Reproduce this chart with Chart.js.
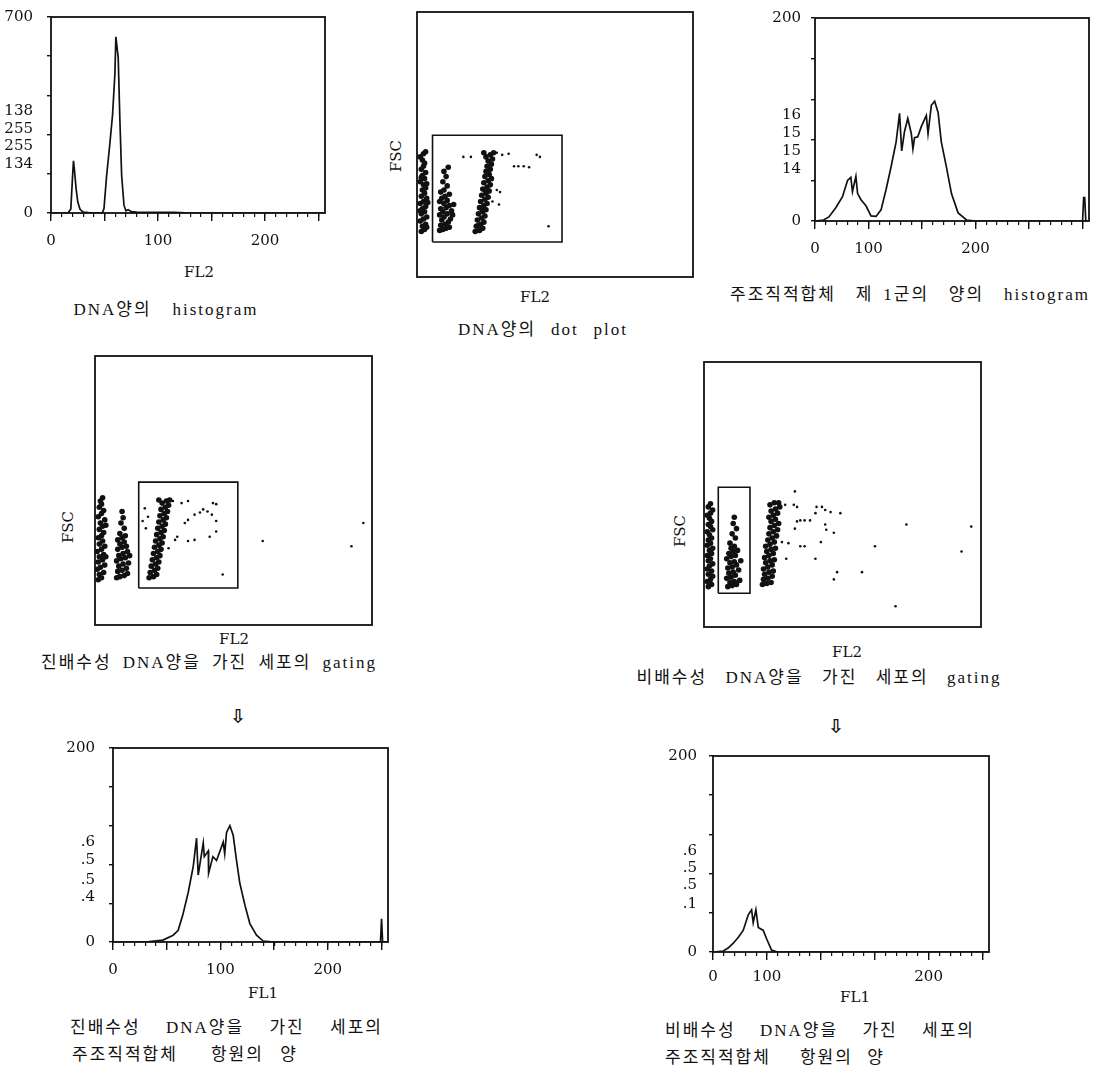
<!DOCTYPE html>
<html lang="ko">
<head>
<meta charset="utf-8">
<script src="https://cdn.jsdelivr.net/npm/chart.js@4.4.1/dist/chart.umd.min.js"></script>
<style>
  body { margin: 0; background: #fff; }
  #page { position: relative; width: 1105px; height: 1077px; overflow: hidden; background: #fff; }
  #page canvas { position: absolute; }
  .t { position: absolute; white-space: pre; color: #111; line-height: 1;
       font-family: "DejaVu Serif", "Noto Sans CJK KR", serif; font-size: 15px; }
  .cap { font-family: "Liberation Serif", "Noto Sans CJK KR", serif; font-size: 17px; letter-spacing: 2px; }
  .c { transform: translate(-50%, -50%); }
  .l { transform: translateY(-50%); }
  .rot { transform: translate(-50%, -50%) rotate(-90deg); }
  .arrow { font-family: "DejaVu Sans", sans-serif; font-size: 19px; font-weight: bold; }
</style>
</head>
<body>
<div id="page">
  <div class="t c" style="left:199px;top:272px">FL2</div>
  <div class="t c cap" data-w="185" style="left:166px;top:309px">DNA양의  histogram</div>

  <div class="t rot" style="left:396px;top:156px">FSC</div>
  <div class="t c" style="left:535px;top:297px">FL2</div>
  <div class="t c cap" data-w="170" style="left:543px;top:329px">DNA양의  dot  plot</div>

  <div class="t c cap" data-w="360" style="left:910px;top:294px">주조직적합체  제 1군의  양의  histogram</div>

  <div class="t rot" style="left:68px;top:527px">FSC</div>
  <div class="t c" style="left:234px;top:639px">FL2</div>
  <div class="t c cap" data-w="336" style="left:209px;top:662px">진배수성  DNA양을  가진  세포의  gating</div>

  <div class="t rot" style="left:680px;top:531px">FSC</div>
  <div class="t c" style="left:847px;top:652px">FL2</div>
  <div class="t c cap" data-w="365" style="left:819px;top:677px">비배수성  DNA양을  가진  세포의  gating</div>

  <div class="t c arrow" style="left:238px;top:716px">⇩</div>
  <div class="t c arrow" style="left:836px;top:726px">⇩</div>

  <div class="t c" style="left:263px;top:993px">FL1</div>
  <div class="t l cap" data-w="313" style="left:70px;top:1027px">진배수성  DNA양을  가진  세포의</div>
  <div class="t l cap" data-w="226" style="left:72px;top:1054px">주조직적합체  항원의 양</div>

  <div class="t c" style="left:855px;top:997px">FL1</div>
  <div class="t l cap" data-w="310" style="left:665px;top:1030px">비배수성  DNA양을  가진  세포의</div>
  <div class="t l cap" data-w="220" style="left:665px;top:1057px">주조직적합체  항원의 양</div>
</div>

<script>
// ---------- histogram: DNA amount (FL2) ----------
const dnaHistX = [0, 10, 16, 18.5, 20, 21, 22, 23.4, 25, 27, 30, 35, 45, 48, 49.5, 52, 55, 57.5, 59.7, 60.6,
                  62.8, 64.4, 66, 68.2, 70, 72, 75, 80, 95, 115, 130, 255];
const dnaHistY = [0, 0, 1, 14, 120, 186, 150, 89, 40, 14, 3, 1, 0, 1, 16, 135, 248, 350, 497, 629,
                  554, 327, 135, 27, 8, 12, 5, 3, 2, 2, 0, 0];
const dnaYTicks = [0, 140, 280, 420, 560, 700];
const dnaYTickLabels = ['0', '', '', '', '', '700'];
const dnaYSideVals = [173, 238, 299, 364];
const dnaYSideLabels = ['134', '255', '255', '138'];

// ---------- histogram: MHC class I on all cells ----------
const mhcAllX = [0, 8, 13, 19.4, 25.7, 30.4, 33.5, 35, 38.2, 39.8, 43, 47.6, 52.3, 57, 61.7, 66.4, 71, 75.8, 79, 81,
                 83.6, 86.7, 90, 91.5, 93, 96, 99.3, 104, 105.6, 108.7, 111.8, 115, 118, 122.8, 127.5, 133.7, 141.6, 150, 175, 250,
                 251, 252, 253, 256];
const mhcAllY = [0, 1, 4, 13, 24, 40, 43, 29, 44, 27, 21, 15, 5, 4.5, 11, 31, 53, 78, 106, 69,
                 88, 101, 86, 71, 82, 83, 93, 104, 86, 114, 118, 107, 78, 53, 27, 8, 1, 0, 0, 0,
                 23, 23, 0, 0];

// ---------- histogram: MHC on euploid gate (FL1) ----------
const mhcEuX = [0, 30, 46.5, 56, 60.7, 65, 70, 74.7, 77.8, 79.3, 84, 85, 88.7, 89, 93, 96.4, 102.6, 104, 105.7, 108.8,
                111.9, 115, 118, 122.8, 127.4, 133.6, 139.8, 150, 249, 250, 251, 256];
const mhcEuY = [0, 0, 2, 7, 12, 28, 51, 78, 107, 69, 102, 88, 94, 71, 88, 84, 103, 91, 113, 120,
                110, 84, 61, 38, 19, 7, 1, 0, 0, 24, 0, 0];

// ---------- histogram: MHC on aneuploid gate (FL1) ----------
const mhcAnX = [0, 9.6, 14, 18.8, 23.5, 28, 32.7, 35.8, 37.3, 39.8, 42, 46.6, 49.7, 54.3, 60, 256];
const mhcAnY = [0, 1, 4, 9, 15, 22, 38, 43, 30, 43, 25, 22, 13.5, 2, 0, 0];

// y ticks of the 0-200 histograms and the stray labels printed beside them
const countYTicks = [0, 40, 80, 120, 160, 200];
const countYTickLabels = ['0', '', '', '', '', '200'];
const mhcAllSideVals = [51, 69, 87, 104];
const mhcAllSideLabels = ['14', '15', '15', '16'];
const mhcEuSideVals = [46, 64, 84, 102.5];
const mhcEuSideLabels = ['.4', '.5', '.5', '.6'];
const mhcAnSideVals = [49, 68, 86, 103.4];
const mhcAnSideLabels = ['.1', '.5', '.5', '.6'];

// channel axis ticks (0-256)
const channelMinorTicks = [0, 10, 20, 30, 40, 50, 60, 70, 80, 90, 100, 110, 120, 130, 140, 150, 160, 170, 180, 190, 200, 210, 220, 230, 240, 250];
const channelMajorTicks = [0, 50, 100, 150, 200, 250];
const dnaXTickLabels = ['0', '', '100', '', '200', ''];
const mhcAllXTickLabels = ['0', '100', '', '200', '', ''];
const mhcEuXTickLabels = ['0', '', '100', '', '200', ''];
const mhcAnXTickLabels = ['0', '100', '', '', '200', ''];

// ---------- dot plot: DNA amount (FL2 vs FSC) ----------
const dotAllA = [[4,44],[7,46],[5,49],[8,51],[3,54],[6,56],[9,58],[4,61],[7,63],[5,66],[8,68],[3,71],[6,73],[9,76],[4,78],[7,81],[5,84],[8,86],[6,89],[3,92],[7,95],[5,98],[8,101],[4,104],[6,107],[7,110],[5,113],[3,116],[6,119],[8,121],[9,48],[3,64],[9,90],[4,96],[10,72]];
const dotAllB = [[21,45],[24,46],[27,47],[30,48],[22,50],[26,51],[29,53],[23,55],[31,56],[25,58],[21,60],[28,61],[24,63],[32,64],[22,66],[27,67],[30,69],[25,71],[21,73],[28,74],[23,76],[26,78],[30,80],[22,82],[25,84],[28,88],[24,92],[27,97],[25,102],[29,106],[33,60],[34,70]];
const dotAllC = [[54,44],[58,45],[61,47],[55,49],[59,51],[62,53],[56,55],[60,57],[63,59],[57,61],[61,63],[64,65],[58,67],[62,69],[65,71],[59,73],[63,75],[66,77],[60,79],[64,81],[67,83],[61,85],[65,87],[68,89],[62,91],[66,93],[69,95],[63,97],[67,99],[64,102],[68,104],[65,107],[69,109],[66,112],[70,114],[64,116],[68,118],[62,120],[71,120],[57,50],[60,66],[63,84],[66,100]];
const dotAllSparse = [[43,116],[50,116],[74,120],[79,118],[85,119],[90,107],[94,107],[99,107],[104,106],[111,118],[114,116],[74,84],[77,82],[70,73],[76,70],[122,49]];
const dotAllGateX = [14.4, 134.5];
const dotAllGateY = [33.8, 137];

// ---------- dot plot: euploid gating ----------
const dotEuA = [[3,43],[6,45],[4,48],[8,50],[2,53],[5,55],[9,57],[3,60],[7,62],[4,65],[8,67],[2,70],[6,72],[9,75],[4,77],[7,80],[3,83],[6,85],[8,88],[4,91],[7,94],[5,97],[9,100],[3,103],[6,106],[8,109],[4,112],[6,115],[5,118],[7,121],[10,65],[10,95]];
const dotEuB = [[20,45],[23,46],[27,47],[30,49],[21,51],[25,52],[29,54],[22,56],[26,58],[31,59],[20,61],[24,63],[28,64],[22,66],[26,68],[30,70],[21,72],[25,74],[29,75],[23,77],[27,79],[21,81],[25,83],[28,85],[23,87],[27,92],[24,97],[26,102],[25,108],[32,66]];
const dotEuC = [[50,45],[54,46],[57,48],[51,50],[55,52],[58,54],[52,56],[56,58],[59,60],[53,62],[57,64],[60,66],[54,68],[58,70],[61,72],[55,74],[59,76],[62,78],[56,80],[60,82],[63,84],[57,86],[61,88],[64,90],[58,92],[62,94],[65,96],[59,98],[63,100],[66,102],[60,104],[64,106],[67,108],[61,110],[65,112],[68,114],[62,116],[66,118],[59,119],[69,119]];
const dotEuSparse = [[46,111],[49,103],[44,99],[47,92],[72,118],[80,116],[86,118],[92,105],[97,107],[100,110],[104,108],[109,116],[112,115],[108,105],[112,99],[86,100],[83,97],[74,81],[76,84],[86,80],[92,81],[112,89],[106,84],[68,73],[118,48],[155,80],[237,75],[248,97]];
const dotEuGateX = [40.4, 132];
const dotEuGateY = [35.2, 136];

// ---------- dot plot: aneuploid gating ----------
const dotAnA = [[4,39],[7,41],[3,44],[6,46],[8,49],[4,51],[7,54],[3,56],[5,59],[8,61],[4,64],[6,66],[3,69],[7,71],[5,74],[8,76],[3,79],[6,81],[4,84],[7,86],[5,89],[3,92],[8,94],[6,97],[4,99],[7,102],[5,105],[3,108],[6,110],[8,113],[4,116],[6,119]];
const dotAnB = [[22,39],[26,40],[30,41],[24,43],[28,44],[33,45],[21,47],[25,48],[29,50],[23,52],[27,53],[32,55],[22,57],[26,58],[30,60],[24,62],[28,63],[34,64],[21,66],[25,68],[29,69],[23,71],[27,73],[31,74],[25,76],[28,78],[24,81],[29,86],[26,90],[30,95],[27,100],[28,106]];
const dotAnC = [[54,41],[58,42],[62,43],[55,46],[59,47],[63,49],[56,51],[60,53],[64,54],[55,56],[59,58],[63,60],[57,62],[61,64],[65,65],[56,67],[60,69],[64,71],[58,73],[62,75],[66,76],[57,78],[61,80],[65,82],[59,84],[63,86],[67,88],[60,90],[64,92],[68,94],[61,96],[65,98],[69,100],[62,102],[66,104],[60,106],[64,108],[68,110],[62,112],[66,114],[70,116],[61,118],[65,120],[69,120]];
const dotAnSparse = [[84,131],[75,118],[83,118],[86,116],[104,116],[109,116],[112,113],[117,111],[126,110],[103,110],[98,103],[93,103],[89,103],[86,102],[84,95],[112,99],[113,94],[120,91],[108,82],[89,78],[93,78],[78,81],[72,82],[76,66],[103,66],[123,53],[146,53],[120,46],[158,78],[187,99],[238,73],[247,97],[177,20],[277,198]];
const dotAnGateX = [13.2, 42.5];
const dotAnGateY = [32.6, 135];

const INK = '#111';
const tickFont = { family: 'DejaVu Serif', size: 15 };

const frame = {
  id: 'frame',
  afterDraw(chart) {
    const a = chart.chartArea, c = chart.ctx;
    c.save();
    c.strokeStyle = INK;
    c.lineWidth = 1.8;
    c.strokeRect(a.left, a.top, a.right - a.left, a.bottom - a.top);
    c.restore();
  }
};

function addCanvas(left, top, w, h) {
  const cv = document.createElement('canvas');
  cv.width = w; cv.height = h;
  cv.style.left = left + 'px'; cv.style.top = top + 'px';
  cv.style.width = w + 'px'; cv.style.height = h + 'px';
  document.getElementById('page').appendChild(cv);
  return cv;
}

function histogram(area, xs, ys, yMax, sideVals, sideLabels, yTicks, yTickLabels, xTickLabels, yPad, xPad) {
  const pad = { l: 62, t: 14, r: 16, b: 40 };
  const cv = addCanvas(area.l - pad.l, area.t - pad.t,
    area.r - area.l + pad.l + pad.r, area.b - area.t + pad.t + pad.b);

  const yLabels = new Map();
  yTicks.forEach((v, i) => yLabels.set(v, yTickLabels[i]));
  sideVals.forEach((v, i) => yLabels.set(v, sideLabels[i]));
  const side = new Set(sideVals);
  const allY = [...yTicks, ...sideVals].sort((a, b) => a - b);
  const xLabels = new Map();
  channelMajorTicks.forEach((v, i) => xLabels.set(v, xTickLabels[i]));

  new Chart(cv, {
    type: 'line',
    data: {
      datasets: [{
        data: xs.map((x, i) => ({ x: x, y: ys[i] })),
        borderColor: INK, borderWidth: 1.7, pointRadius: 0, tension: 0, fill: false
      }]
    },
    options: {
      responsive: false, animation: false, devicePixelRatio: 1,
      layout: { padding: { top: pad.t, right: pad.r, left: 0, bottom: 0 } },
      plugins: { legend: { display: false }, tooltip: { enabled: false } },
      scales: {
        x: {
          type: 'linear', min: 0, max: 256, weight: 0,
          afterFit(s) { s.height = 0; },
          afterBuildTicks(s) { s.ticks = channelMinorTicks.map(v => ({ value: v })); },
          ticks: { display: false },
          grid: { drawOnChartArea: false, tickLength: 4, color: INK, lineWidth: 1.2 },
          border: { display: false }
        },
        xMajor: {
          type: 'linear', axis: 'x', position: 'bottom', min: 0, max: 256, weight: 1,
          afterFit(s) { s.height = pad.b; },
          afterBuildTicks(s) { s.ticks = channelMajorTicks.map(v => ({ value: v })); },
          ticks: { autoSkip: false, maxRotation: 0, padding: xPad, font: tickFont, color: INK,
                   callback: v => xLabels.get(v) ?? '' },
          grid: { drawOnChartArea: false, tickLength: 8, color: INK, lineWidth: 1.4 },
          border: { display: false }
        },
        y: {
          min: 0, max: yMax,
          afterFit(s) { s.width = pad.l; },
          afterBuildTicks(s) { s.ticks = allY.map(v => ({ value: v })); },
          ticks: { autoSkip: false, padding: yPad, font: tickFont, color: INK,
                   callback: v => yLabels.get(v) ?? '' },
          grid: { drawOnChartArea: false, tickLength: 4, lineWidth: 1.4,
                  tickColor: c => (c.tick && side.has(c.tick.value)) ? 'rgba(0,0,0,0)' : INK },
          border: { display: false }
        }
      }
    },
    plugins: [frame]
  });
}

function dotPlot(area, pad, dense, sparse, gateX, gateY) {
  const cv = addCanvas(area.l - pad.l, area.t - pad.t,
    area.r - area.l + pad.l + pad.r, area.b - area.t + pad.t + pad.b);
  const pts = arr => arr.map(p => ({ x: p[0], y: p[1] }));
  const gate = [
    { x: gateX[0], y: gateY[0] }, { x: gateX[1], y: gateY[0] },
    { x: gateX[1], y: gateY[1] }, { x: gateX[0], y: gateY[1] }, { x: gateX[0], y: gateY[0] }
  ];
  const datasets = dense.map(cl => ({
    data: pts(cl), pointRadius: 2.8, pointBackgroundColor: INK, pointBorderWidth: 0
  }));
  datasets.push({ data: pts(sparse), pointRadius: 1.3, pointBackgroundColor: INK, pointBorderWidth: 0, clip: false });
  datasets.push({ data: gate, showLine: true, borderColor: INK, borderWidth: 1.6, pointRadius: 0 });

  new Chart(cv, {
    type: 'scatter',
    data: { datasets: datasets },
    options: {
      responsive: false, animation: false, devicePixelRatio: 1,
      layout: { padding: { left: pad.l, top: pad.t, right: pad.r, bottom: pad.b } },
      plugins: { legend: { display: false }, tooltip: { enabled: false } },
      scales: {
        x: { type: 'linear', min: 0, max: 256, display: false },
        y: { type: 'linear', min: 0, max: 256, display: false }
      }
    },
    plugins: [frame]
  });
}

histogram({ l: 51, t: 8, r: 325, b: 213 }, dnaHistX, dnaHistY, 700,
  dnaYSideVals, dnaYSideLabels, dnaYTicks, dnaYTickLabels, dnaXTickLabels, 14, 11);
histogram({ l: 815, t: 13, r: 1089, b: 221 }, mhcAllX, mhcAllY, 200,
  mhcAllSideVals, mhcAllSideLabels, countYTicks, countYTickLabels, mhcAllXTickLabels, 10, 11);
histogram({ l: 113, t: 739, r: 388, b: 942 }, mhcEuX, mhcEuY, 200,
  mhcEuSideVals, mhcEuSideLabels, countYTicks, countYTickLabels, mhcEuXTickLabels, 14, 11);
histogram({ l: 713, t: 749, r: 989, b: 952 }, mhcAnX, mhcAnY, 200,
  mhcAnSideVals, mhcAnSideLabels, countYTicks, countYTickLabels, mhcAnXTickLabels, 12, 8);

dotPlot({ l: 417, t: 12, r: 693, b: 277 }, { l: 4, t: 4, r: 4, b: 4 },
  [dotAllA, dotAllB, dotAllC], dotAllSparse, dotAllGateX, dotAllGateY);
dotPlot({ l: 95, t: 356, r: 372, b: 625 }, { l: 4, t: 4, r: 4, b: 4 },
  [dotEuA, dotEuB, dotEuC], dotEuSparse, dotEuGateX, dotEuGateY);
dotPlot({ l: 704, t: 362, r: 981, b: 627 }, { l: 4, t: 4, r: 30, b: 4 },
  [dotAnA, dotAnB, dotAnC], dotAnSparse, dotAnGateX, dotAnGateY);

// the print sets captions with wide tracking; let the word gaps absorb the rest of the printed width
document.querySelectorAll('.cap').forEach(el => {
  const target = +el.dataset.w;
  const natural = el.getBoundingClientRect().width;
  const gaps = (el.textContent.match(/ /g) || []).length || 1;
  el.style.wordSpacing = Math.max(-3, (target - natural) / gaps).toFixed(2) + 'px';
});
</script>
</body>
</html>
